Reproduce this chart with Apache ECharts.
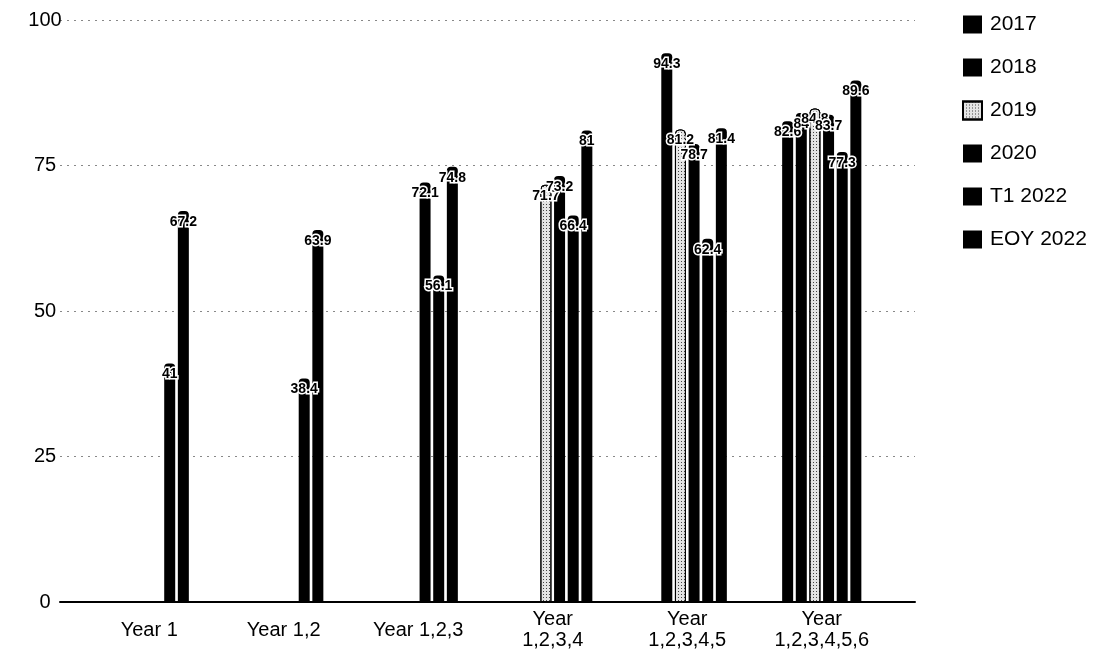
<!DOCTYPE html>
<html><head><meta charset="utf-8">
<script src="https://cdn.jsdelivr.net/npm/echarts@6/dist/echarts.min.js"></script>
<style>html,body{margin:0;padding:0;background:#fff}#c{width:1108px;height:662px}</style>
</head><body><div id="c"></div>
<script>
var categories = ['Year 1','Year 1,2','Year 1,2,3','Year\n1,2,3,4','Year\n1,2,3,4,5','Year\n1,2,3,4,5,6'];
var seriesNames = ['2017','2018','2019','2020','T1 2022','EOY 2022'];
var s2017 = [null,null,null,null,null,82.6];
var s2018 = [null,null,null,null,94.3,84.0];
var s2019 = [null,null,null,71.7,81.2,84.8];
var s2020 = [null,null,72.1,73.2,78.7,83.7];
var sT1   = [41,38.4,56.1,66.4,62.4,77.3];
var sEOY  = [67.2,63.9,74.8,81,81.4,89.6];
var yTicks = [0,25,50,75,100];

var allData = [s2017,s2018,s2019,s2020,sT1,sEOY];
var font = 'Liberation Sans, Arial, sans-serif';
var series = allData.map(function(d,i){
  var isTex = (i===2);
  return {
    name: seriesNames[i], type:'bar', data:d, xAxisIndex:1, yAxisIndex:1,
    barWidth:11, barGap:'24%',
    itemStyle: isTex ? {
      color:'#e4e4e4', borderColor:'#000', borderWidth:1, borderRadius:[4,4,0,0],
      decal:{symbol:'rect', symbolSize:1, color:'rgba(0,0,0,0.7)', dashArrayX:[1,1.5], dashArrayY:[1,2], rotation:0}
    } : {color:'#000', borderRadius:[4,4,0,0]},
    label:{show:true, position:'insideTop', distance:4, color:'#000', fontFamily:font,
      fontSize:14, fontWeight:'bold', textBorderColor:'#fff', textBorderWidth:3},
    emphasis:{disabled:true}
  };
});

var chart = echarts.init(document.getElementById('c'), null, {renderer:'canvas'});
chart.setOption({
  animation:false,
  backgroundColor:'#fff',
  grid:[
    {left:60, right:193, top:20, bottom:60},
    {left:82, right:219, top:20, bottom:60}
  ],
  legend:{
    orient:'vertical', left:957, top:9, itemWidth:19, itemHeight:18, itemGap:22,
    icon:'rect', data:seriesNames,
    textStyle:{color:'#000', fontSize:21, fontFamily:font, padding:[0,0,0,3]}
  },
  xAxis:[
    {type:'value', gridIndex:0, min:0, max:1, show:true,
     axisLine:{show:true, onZero:false, lineStyle:{color:'#000', width:2}},
     axisTick:{show:false}, axisLabel:{show:false}, splitLine:{show:false}},
    {type:'category', gridIndex:1, data:categories,
     axisLine:{show:false}, axisTick:{show:false},
     axisLabel:{color:'#000', fontSize:20, fontFamily:font, margin:28, lineHeight:21,
       verticalAlign:'middle', interval:0}}
  ],
  yAxis:[
    {type:'value', gridIndex:0, min:0, max:100, interval:25,
     axisLine:{show:false}, axisTick:{show:false},
     axisLabel:{color:'#000', fontSize:20, fontFamily:font, align:'center', margin:15,
       formatter:function(v){return yTicks.indexOf(v)>=0? String(v):'';}},
     splitLine:{show:true, lineStyle:{color:'#888', type:[2,5], width:1}}},
    {type:'value', gridIndex:1, min:0, max:100, interval:25, show:false,
     splitLine:{show:false}}
  ],
  series: series
});
</script>
</body></html>
